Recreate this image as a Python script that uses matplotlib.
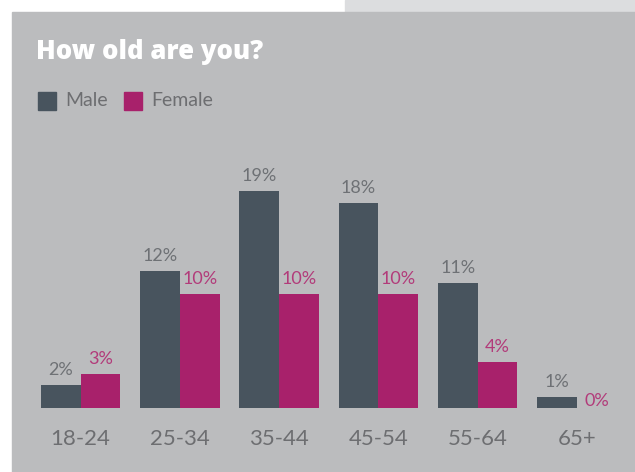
import matplotlib
matplotlib.use("Agg")
import matplotlib.pyplot as plt
import numpy as np
from matplotlib.patches import Rectangle

categories = ["18-24", "25-34", "35-44", "45-54", "55-64", "65+"]
male = [2, 12, 19, 18, 11, 1]
female = [3, 10, 10, 10, 4, 0]
series_names = ["Male", "Female"]
title = "How old are you?"

C_PANEL = "#bbbcbe"
C_TOP = "#dcdddf"
C_MALE = "#48545e"
C_FEMALE = "#a8216b"
C_MALE_TXT = "#6e7175"
C_FEMALE_TXT = "#b23b7a"
C_TICK = "#6d6e71"

W, H = 635, 472
fig = plt.figure(figsize=(W / 100, H / 100), dpi=100)
fig.patch.set_facecolor("white")
fig.patches.append(Rectangle((345 / W, (H - 12) / H), 1 - 345 / W, 12 / H,
                             transform=fig.transFigure, color=C_TOP, zorder=-5))
fig.patches.append(Rectangle((12 / W, 0), 1 - 12 / W, (H - 12) / H,
                             transform=fig.transFigure, color=C_PANEL, zorder=-5))

ax = fig.add_axes([0, 0, 1, 1])
ax.set_zorder(5)
ax.set_facecolor("none")
ax.axis("off")

spacing = 99.3
px_per = 11.4
x0 = 80.5
base = 64
ax.set_xlim(-x0 / spacing, (W - x0) / spacing)
ax.set_ylim(-base / px_per, (H - base) / px_per)

x = np.arange(len(categories))
bw = 0.4
ax.bar(x - bw / 2, male, bw, color=C_MALE, linewidth=0)
ax.bar(x + bw / 2, female, bw, color=C_FEMALE, linewidth=0)

lab_font = dict(family=["Lato", "DejaVu Sans"], fontweight="normal")
for xi, v in zip(x, male):
    ax.annotate(f"{v}%", (xi - bw / 2, v), xytext=(0, 5 if v > 0 else 0),
                textcoords="offset points", ha="center", va="bottom",
                fontsize=13, color=C_MALE_TXT, **lab_font)
for xi, v in zip(x, female):
    ax.annotate(f"{v}%", (xi + bw / 2, v), xytext=(0, 5 if v > 0 else -1),
                textcoords="offset points", ha="center", va="bottom",
                fontsize=13, color=C_FEMALE_TXT, **lab_font)
for xi, c in zip(x, categories):
    ax.annotate(c, (xi, 0), xytext=(0, -15), textcoords="offset points",
                ha="center", va="top", fontsize=16, color=C_TICK, **lab_font)

fig.text(36 / W, 1 - 52 / H, title, ha="left", va="center", fontsize=18.5,
         color="white", family=["Open Sans", "DejaVu Sans"], fontweight="heavy")

# legend
for i, (name, col) in enumerate(zip(series_names, [C_MALE, C_FEMALE])):
    lx = [38, 124][i]
    fig.patches.append(Rectangle((lx / W, 1 - 110 / H), 18 / W, 18 / H,
                                 transform=fig.transFigure, color=col, zorder=2))
    fig.text((lx + 27) / W, 1 - 101 / H, name, ha="left", va="center",
             fontsize=14, color=C_TICK, **lab_font)

fig.savefig("out.png", dpi=100, facecolor=fig.get_facecolor())
